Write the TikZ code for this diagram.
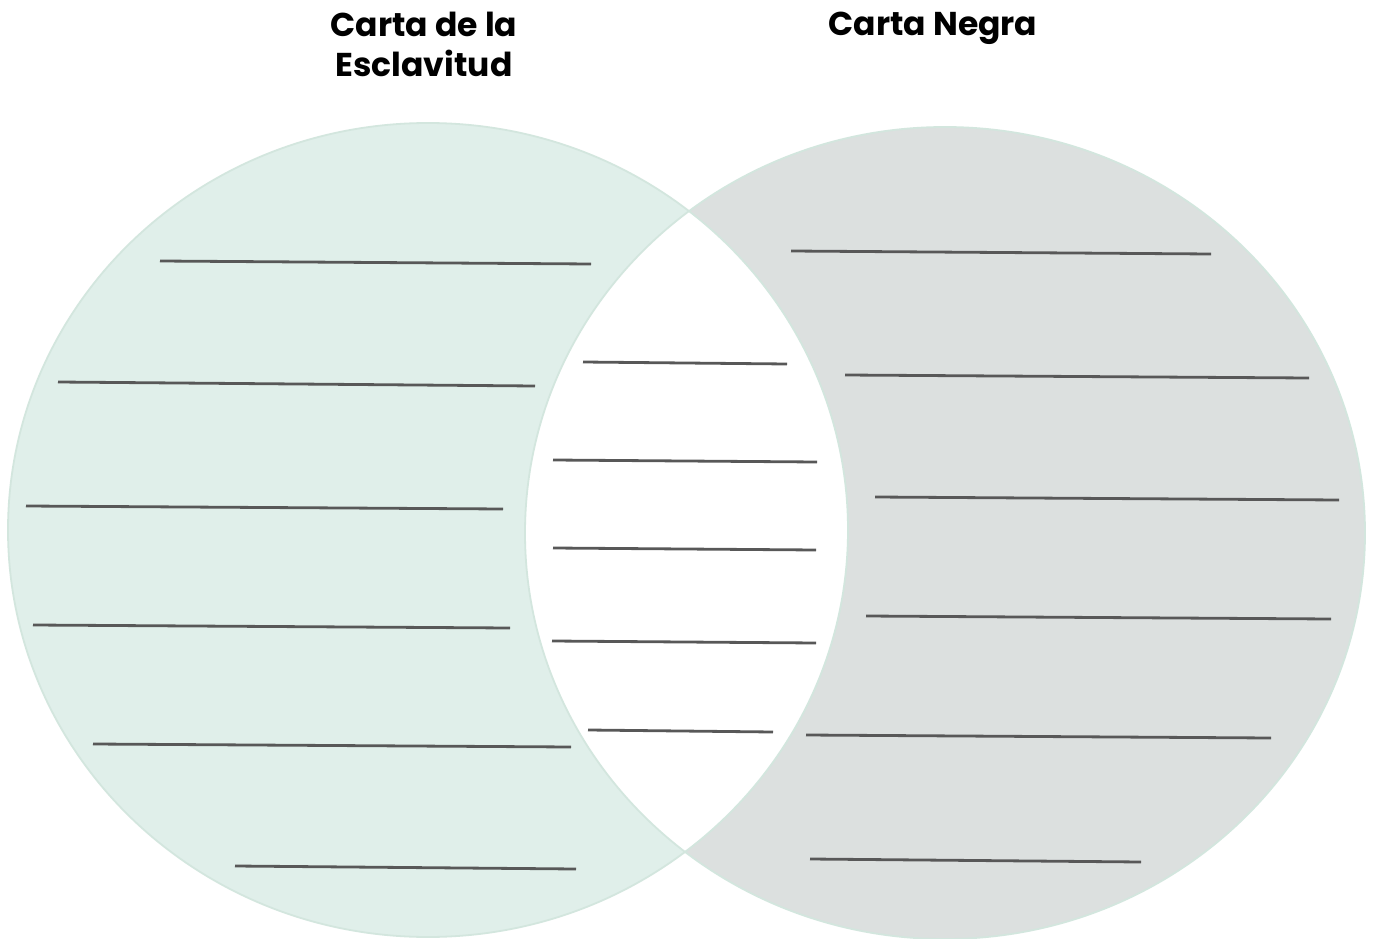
\documentclass[tikz,border=0pt]{standalone}
\usepackage{fontspec}
\setmainfont{Poppins}
\definecolor{leftfill}{HTML}{E0EFEA}
\definecolor{rightfill}{HTML}{DCE0DF}
\definecolor{edge}{HTML}{D3E6DE}
\definecolor{rule}{HTML}{585858}
\begin{document}
\begin{tikzpicture}[x=1pt,y=-1pt,
  title/.style={font=\fontsize{33}{40}\selectfont\bfseries, align=center, anchor=north, inner sep=0pt},
  wline/.style={draw=rule, line width=2.8pt}]
\useasboundingbox (0,0) rectangle (1377,939);
\fill[white] (0,0) rectangle (1377,939);
% ellipses
\fill[leftfill] (428,530) ellipse [x radius=420, y radius=407];
\fill[rightfill] (945,533) ellipse [x radius=420, y radius=406];
\begin{scope}
  \clip (428,530) ellipse [x radius=420, y radius=407];
  \fill[white] (945,533) ellipse [x radius=420, y radius=406];
\end{scope}
\draw[edge, line width=1.8pt] (428,530) ellipse [x radius=420, y radius=407];
\draw[edge, line width=1.8pt] (945,533) ellipse [x radius=420, y radius=406];
% titles
\node[title] (tl) at (424,12) {Carta de la\\Esclavitud};
\node[title] (tr) at (933,12) {Carta Negra};
% left lines
\draw[wline] (160,261) -- (591,264);
\draw[wline] (58,382) -- (535,386);
\draw[wline] (26,506) -- (503,509);
\draw[wline] (33,625) -- (510,628);
\draw[wline] (93,744) -- (571,747);
\draw[wline] (235,866) -- (576,869);
% middle lines
\draw[wline] (583,362) -- (787,364);
\draw[wline] (553,460) -- (817,462);
\draw[wline] (553,548) -- (816,550);
\draw[wline] (552,641) -- (816,643);
\draw[wline] (588,730) -- (773,732);
% right lines
\draw[wline] (791,251) -- (1211,254);
\draw[wline] (845,375) -- (1309,378);
\draw[wline] (875,497) -- (1339,500);
\draw[wline] (866,616) -- (1331,619);
\draw[wline] (806,735) -- (1271,738);
\draw[wline] (810,859) -- (1141,862);
\end{tikzpicture}
\end{document}
